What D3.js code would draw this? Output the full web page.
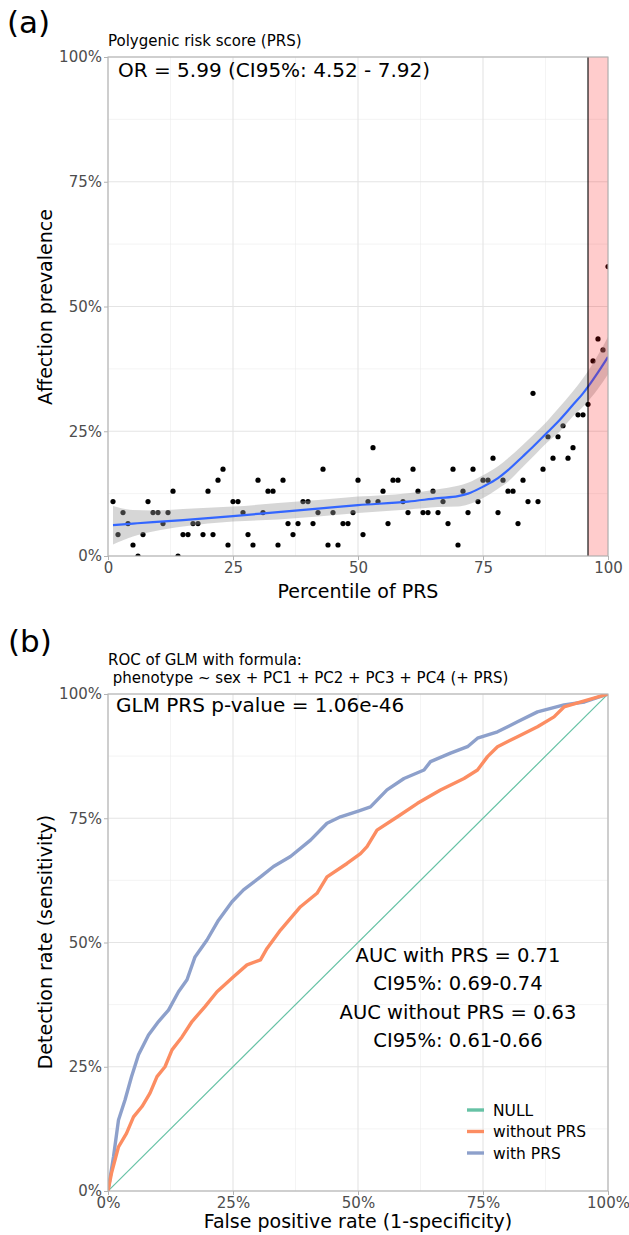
<!DOCTYPE html>
<html>
<head>
<meta charset="utf-8">
<script src="https://cdnjs.cloudflare.com/ajax/libs/d3/7.8.5/d3.min.js"></script>
<style>
  body { margin: 0; background: #fff; }
  text { font-family: "DejaVu Sans", sans-serif; }
</style>
</head>
<body>
<script>
// ---- panel (a) data : prevalence (%) per PRS percentile
var percentile = [1,2,3,4,5,6,7,8,9,10,11,12,13,14,15,16,17,18,19,20,21,22,23,24,25,26,27,28,29,30,31,32,33,34,35,36,37,38,39,40,41,42,43,44,45,46,47,48,49,50,51,52,53,54,55,56,57,58,59,60,61,62,63,64,65,66,67,68,69,70,71,72,73,74,75,76,77,78,79,80,81,82,83,84,85,86,87,88,89,90,91,92,93,94,95,96,97,98,99,100];
var prevalence = [10.9,4.3,8.7,6.5,2.2,0,4.3,10.9,8.7,8.7,6.5,8.7,13.0,0,4.3,4.3,6.5,6.5,4.3,13.0,
                  4.3,15.2,17.4,2.2,10.9,10.9,8.7,4.3,2.2,15.2,8.7,13.0,13.0,2.2,15.2,6.5,4.3,6.5,10.9,10.9,
                  6.5,8.7,17.4,2.2,8.7,2.2,6.5,6.5,8.7,15.2,4.3,10.9,21.7,10.9,13.0,6.5,15.2,15.2,10.9,8.7,
                  17.4,13.0,8.7,8.7,13.0,8.7,10.9,6.5,17.4,2.2,13.0,8.7,17.4,10.9,15.2,15.2,19.6,8.7,15.2,13.0,
                  13.0,6.5,15.2,10.9,32.6,10.9,17.4,23.9,19.6,23.9,26.1,19.6,21.7,28.3,28.3,30.4,39.1,43.5,41.3,58.0];

// loess fit and its 95% band
var smoothX  = [1,5,9,15,25,34,42,50,60,66,70,72,75,78,80,83,85,88,90,93,95,98,100];
var smoothY  = [6.2,6.5,6.8,7.2,8.0,8.8,9.5,10.2,10.9,11.6,12.0,12.5,13.9,15.6,17.2,20.0,21.9,24.9,26.9,30.3,32.6,36.8,39.9];
var smoothLo = [2.3,3.9,4.9,5.9,6.9,7.3,7.9,8.6,9.3,9.8,9.9,10.3,11.6,13.5,14.9,17.9,19.9,22.9,24.6,28.0,29.9,33.5,36.4];
var smoothHi = [10.0,9.2,9.1,9.4,9.9,10.6,11.2,11.9,12.6,13.4,14.1,14.7,16.2,18.0,19.6,22.3,24.2,27.2,29.5,33.0,35.6,40.3,43.9];
var topStart = 96; // highlighted top percentiles

// ---- panel (b) data : ROC curves (%)
var withFpr = [0,1.1,2.1,3.4,4.7,6.1,8.1,10.1,12.1,14.1,15.8,17.4,19.8,22.1,24.8,27.1,30.5,33.1,36.5,40.5,43.8,46.5,50.2,52.5,55.8,59.2,63.2,64.5,68.5,71.9,73.9,77.9,81.9,85.9,91.2,95.3,100];
var withTpr = [0,6.9,14.3,18.3,23.0,27.4,31.4,34.1,36.4,40.1,42.5,47.1,50.5,54.5,58.2,60.6,63.2,65.3,67.3,70.6,74.0,75.3,76.5,77.3,80.7,83.0,84.7,86.4,88.1,89.4,91.1,92.4,94.4,96.4,97.8,98.4,100];
var withoutFpr = [0,0.7,2.1,3.7,5.1,6.8,8.4,9.8,11.4,12.8,14.8,16.8,19.4,21.8,25.1,27.8,30.5,31.8,34.5,35.1,38.5,41.8,43.8,47.8,50.5,51.8,53.8,57.9,61.9,66.5,71.2,73.9,75.9,77.9,81.9,85.9,89.2,91.2,94.6,100];
var withoutTpr = [0,3.6,8.9,11.6,14.9,17.0,19.7,23.0,25.0,28.4,31.0,34.1,37.1,40.1,43.1,45.5,46.5,48.8,52.5,53.2,57.2,59.9,63.2,65.9,67.9,69.3,72.6,75.3,78.0,80.7,83.0,84.7,87.4,89.4,91.4,93.4,95.4,97.4,98.4,100];
var nullFpr = [0,100];
var nullTpr = [0,100];

var legendLabels = ["NULL","without PRS","with PRS"];
var legendColors = ["#66c2a5","#fc8d62","#8da0cb"];
var aucLines = ["AUC with PRS = 0.71","CI95%: 0.69-0.74","AUC without PRS = 0.63","CI95%: 0.61-0.66"];

var majorTicks = [0,25,50,75,100];
var minorTicks = [12.5,37.5,62.5,87.5];

var svg = d3.select('body').append('svg').attr('width', 629).attr('height', 1235);

// draws grid, axes and returns clipped plotting group
function makePanel(id, x, y, xFmt, yFmt) {
  var g = svg.append('g');
  var x0 = x.range()[0], x1 = x.range()[1], y0 = y.range()[0], y1 = y.range()[1];

  svg.append('clipPath').attr('id', id).append('rect')
     .attr('x', x0).attr('y', y1).attr('width', x1 - x0).attr('height', y0 - y1);

  g.selectAll('.minx').data(minorTicks).enter().append('line')
   .attr('x1', function(d){ return x(d); }).attr('x2', function(d){ return x(d); })
   .attr('y1', y0).attr('y2', y1).attr('stroke', '#ececec').attr('stroke-width', 0.6);
  g.selectAll('.miny').data(minorTicks).enter().append('line')
   .attr('y1', function(d){ return y(d); }).attr('y2', function(d){ return y(d); })
   .attr('x1', x0).attr('x2', x1).attr('stroke', '#ececec').attr('stroke-width', 0.6);
  g.selectAll('.majx').data(majorTicks).enter().append('line')
   .attr('x1', function(d){ return x(d); }).attr('x2', function(d){ return x(d); })
   .attr('y1', y0).attr('y2', y1).attr('stroke', '#e4e4e4').attr('stroke-width', 1.1);
  g.selectAll('.majy').data(majorTicks).enter().append('line')
   .attr('y1', function(d){ return y(d); }).attr('y2', function(d){ return y(d); })
   .attr('x1', x0).attr('x2', x1).attr('stroke', '#e4e4e4').attr('stroke-width', 1.1);

  var xAxis = svg.append('g').attr('transform', 'translate(0,' + y0 + ')')
     .call(d3.axisBottom(x).tickValues(majorTicks).tickFormat(xFmt).tickSize(4).tickPadding(2));
  var yAxis = svg.append('g').attr('transform', 'translate(' + x0 + ',0)')
     .call(d3.axisLeft(y).tickValues(majorTicks).tickFormat(yFmt).tickSize(4).tickPadding(2));
  [xAxis, yAxis].forEach(function(a) {
    a.select('.domain').remove();
    a.selectAll('line').attr('stroke', '#b3b3b3').attr('stroke-width', 1);
    a.selectAll('text').attr('fill', '#4d4d4d').style('font-size', '15px')
     .style('font-family', '"DejaVu Sans", sans-serif');
  });

  var plot = svg.append('g').attr('clip-path', 'url(#' + id + ')');
  return plot;
}

function border(x, y) {
  svg.append('rect')
     .attr('x', x.range()[0]).attr('y', y.range()[1])
     .attr('width', x.range()[1] - x.range()[0]).attr('height', y.range()[0] - y.range()[1])
     .attr('fill', 'none').attr('stroke', '#b3b3b3').attr('stroke-width', 1.1);
}

// ================= panel (a)
var xa = d3.scaleLinear().domain([0, 100]).range([108, 608]);
var ya = d3.scaleLinear().domain([0, 100]).range([556, 57]);
var pa = makePanel('clipA', xa, ya, function(d){ return d; }, function(d){ return d + '%'; });

pa.selectAll('circle').data(percentile).enter().append('circle')
  .attr('cx', function(d){ return xa(d); })
  .attr('cy', function(d, i){ return ya(prevalence[i]); })
  .attr('r', 2.6).attr('fill', '#000');

var band = d3.area()
  .x(function(d){ return xa(d); })
  .y0(function(d, i){ return ya(smoothLo[i]); })
  .y1(function(d, i){ return ya(smoothHi[i]); })
  .curve(d3.curveMonotoneX);
pa.append('path').datum(smoothX).attr('d', band).attr('fill', '#999').attr('fill-opacity', 0.4);

var fit = d3.line()
  .x(function(d){ return xa(d); })
  .y(function(d, i){ return ya(smoothY[i]); })
  .curve(d3.curveMonotoneX);
pa.append('path').datum(smoothX).attr('d', fit).attr('fill', 'none')
  .attr('stroke', '#3366ff').attr('stroke-width', 2.2);

// top percentiles highlight
pa.append('rect').attr('x', xa(topStart)).attr('y', ya(100))
  .attr('width', xa(100) - xa(topStart)).attr('height', ya(0) - ya(100))
  .attr('fill', 'red').attr('fill-opacity', 0.2);
pa.append('line').attr('x1', xa(topStart)).attr('x2', xa(topStart))
  .attr('y1', ya(0)).attr('y2', ya(100)).attr('stroke', '#000').attr('stroke-width', 1.1);
border(xa, ya);

svg.append('text').attr('x', 7).attr('y', 33).style('font-size', '31px').text('(a)');
svg.append('text').attr('x', 108).attr('y', 46).style('font-size', '15px').text('Polygenic risk score (PRS)');
svg.append('text').attr('x', 118).attr('y', 77).style('font-size', '20px').text('OR = 5.99 (CI95%: 4.52 - 7.92)');
svg.append('text').attr('x', 358).attr('y', 598).attr('text-anchor', 'middle')
   .style('font-size', '19px').text('Percentile of PRS');
svg.append('text').attr('transform', 'translate(52,307) rotate(-90)').attr('text-anchor', 'middle')
   .style('font-size', '19px').text('Affection prevalence');

// ================= panel (b)
var xb = d3.scaleLinear().domain([0, 100]).range([108, 608]);
var yb = d3.scaleLinear().domain([0, 100]).range([1191, 694]);
var pct = function(d){ return d + '%'; };
var pb = makePanel('clipB', xb, yb, pct, pct);

function roc(fpr, tpr, color, w) {
  var line = d3.line()
    .x(function(d){ return xb(d); })
    .y(function(d, i){ return yb(tpr[i]); });
  pb.append('path').datum(fpr).attr('d', line).attr('fill', 'none')
    .attr('stroke', color).attr('stroke-width', w).attr('stroke-linejoin', 'round');
}
roc(nullFpr, nullTpr, legendColors[0], 1.2);
roc(withFpr, withTpr, legendColors[2], 3.4);
roc(withoutFpr, withoutTpr, legendColors[1], 3.4);
border(xb, yb);

svg.append('text').attr('x', 8).attr('y', 652).style('font-size', '31px').text('(b)');
svg.append('text').attr('x', 108).attr('y', 665).style('font-size', '15px').text('ROC of GLM with formula:');
svg.append('text').attr('x', 108).attr('y', 683).style('font-size', '15px').style('white-space', 'pre')
   .text(' phenotype ~ sex + PC1 + PC2 + PC3 + PC4 (+ PRS)');
svg.append('text').attr('x', 116).attr('y', 712).style('font-size', '20px').text('GLM PRS p-value = 1.06e-46');

svg.selectAll('.auc').data(aucLines).enter().append('text')
   .attr('x', 458).attr('y', function(d, i){ return 962 + i * 28.3; })
   .attr('text-anchor', 'middle').style('font-size', '19.5px').text(function(d){ return d; });

var leg = svg.append('g');
legendLabels.forEach(function(lab, i) {
  var yy = 1110 + i * 21.5;
  leg.append('line').attr('x1', 467).attr('x2', 484).attr('y1', yy).attr('y2', yy)
     .attr('stroke', legendColors[i]).attr('stroke-width', 3.4);
  leg.append('text').attr('x', 493).attr('y', yy + 5.5).style('font-size', '15.5px').text(lab);
});

svg.append('text').attr('x', 358).attr('y', 1228).attr('text-anchor', 'middle')
   .style('font-size', '19px').text('False positive rate (1-specificity)');
svg.append('text').attr('transform', 'translate(52,942) rotate(-90)').attr('text-anchor', 'middle')
   .style('font-size', '19px').text('Detection rate (sensitivity)');
</script>
</body>
</html>
